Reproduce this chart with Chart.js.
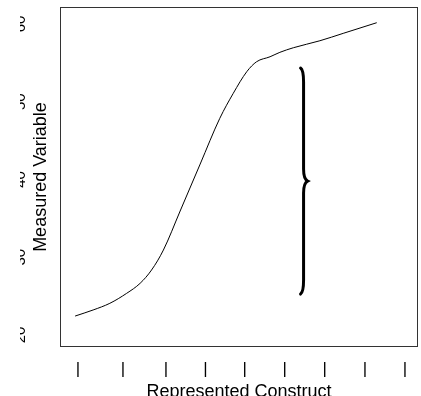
<!DOCTYPE html>
<html>
<head>
<meta charset="utf-8">
<script src="https://cdn.jsdelivr.net/npm/chart.js@4"></script>
<style>
  html, body { margin: 0; padding: 0; background: #fff; overflow: hidden; }
  canvas { display: block; }
</style>
</head>
<body>
<canvas id="chart" width="421" height="396"></canvas>
<script>
// ==========================
// DATA
// ==========================
const curveX = [0.93, 1.37, 1.78, 2.19, 2.52, 2.80, 3.09, 3.50, 3.99, 4.47, 4.80, 5.13, 5.37, 5.70, 5.94, 6.27, 6.92, 7.49, 8.31];
const curveY = [22.44, 23.22, 24.08, 25.36, 26.65, 28.36, 30.93, 35.95, 41.99, 47.87, 51.09, 53.87, 55.15, 55.79, 56.36, 56.95, 57.85, 58.80, 60.17];

const xTickValues = [1, 2.1, 3.15, 4.12, 5.08, 6.06, 7.04, 8.02, 9];
const xTickLabels = ['|', '|', '|', '|', '|', '|', '|', '|', '|'];
const yTickValues = [20, 30, 40, 50, 60];
const yTickLabels = ['20', '30', '40', '50', '60'];

// brace: x position and span on the y axis (data units)
const braceX = 6.52;
const braceSpan = [25.27, 54.34];

const FONT = "'Liberation Sans', Arial, sans-serif";

// ==========================
// PLUGINS
// ==========================
const clipLeft = {
    id: 'clipLeft',
    beforeDraw(chart) {
        const ctx = chart.ctx;
        ctx.save();
        ctx.beginPath();
        ctx.rect(20, 0, chart.width, chart.height);
        ctx.clip();
    },
    afterDraw(chart) {
        chart.ctx.restore();
    }
};

const boxAndBrace = {
    id: 'boxAndBrace',
    afterDatasetsDraw(chart) {
        const ctx = chart.ctx;
        const a = chart.chartArea;
        const xs = chart.scales.x, ys = chart.scales.y;

        ctx.save();
        ctx.strokeStyle = '#333';
        ctx.lineWidth = 1;
        ctx.strokeRect(a.left + 0.5, a.top + 0.5, a.right - a.left - 1, a.bottom - a.top - 1);

        const bx = xs.getPixelForValue(braceX);
        const top = ys.getPixelForValue(braceSpan[1]);
        const bot = ys.getPixelForValue(braceSpan[0]);
        const mid = (top + bot) / 2;

        ctx.strokeStyle = '#000';
        ctx.lineWidth = 3;
        ctx.lineCap = 'round';
        ctx.beginPath();
        ctx.moveTo(bx - 3, top);
        ctx.quadraticCurveTo(bx, top + 2, bx, top + 14);
        ctx.lineTo(bx, mid - 12);
        ctx.quadraticCurveTo(bx, mid - 2, bx + 4, mid);
        ctx.quadraticCurveTo(bx, mid + 2, bx, mid + 12);
        ctx.lineTo(bx, bot - 14);
        ctx.quadraticCurveTo(bx, bot - 2, bx - 3, bot);
        ctx.stroke();
        ctx.restore();
    }
};

// ==========================
// CHART
// ==========================
new Chart(document.getElementById('chart'), {
    type: 'line',
    data: {
        datasets: [{
            data: curveX.map((x, i) => ({ x, y: curveY[i] })),
            borderColor: '#000',
            borderWidth: 1,
            pointRadius: 0,
            fill: false,
            cubicInterpolationMode: 'monotone'
        }]
    },
    options: {
        responsive: false,
        animation: false,
        devicePixelRatio: 1,
        layout: { padding: { top: 7, right: 3, left: 0, bottom: 0 } },
        plugins: { legend: { display: false }, tooltip: { enabled: false } },
        scales: {
            x: {
                type: 'linear',
                min: 0.56,
                max: 9.32,
                afterBuildTicks: s => { s.ticks = xTickValues.map(v => ({ value: v })); },
                afterFit: s => { s.height = 49; s.paddingLeft = 0; s.paddingRight = 0; },
                grid: { display: false, drawTicks: false },
                border: { display: false },
                ticks: {
                    autoSkip: false,
                    maxRotation: 0,
                    padding: 12,
                    color: '#000',
                    font: { family: FONT, size: 17 },
                    callback: (v, i) => xTickLabels[i]
                },
                title: {
                    display: true,
                    text: 'Represented Construct',
                    color: '#000',
                    font: { family: FONT, size: 18 },
                    padding: { top: 0, bottom: -7 }
                }
            },
            y: {
                type: 'linear',
                min: 18.46,
                max: 62.19,
                afterBuildTicks: s => { s.ticks = yTickValues.map(v => ({ value: v })); },
                afterFit: s => { s.width = 60; s.paddingTop = 0; s.paddingBottom = 0; },
                grid: { display: false, drawTicks: false },
                border: { display: false },
                ticks: {
                    autoSkip: false,
                    minRotation: 90,
                    maxRotation: 90,
                    crossAlign: 'center',
                    padding: 31,
                    color: '#000',
                    font: { family: FONT, size: 15 },
                    callback: (v, i) => yTickLabels[i]
                },
                title: {
                    display: true,
                    text: 'Measured Variable',
                    color: '#000',
                    font: { family: FONT, size: 18 },
                    padding: { top: 30, bottom: 0 }
                }
            }
        }
    },
    plugins: [clipLeft, boxAndBrace]
});
</script>
</body>
</html>
